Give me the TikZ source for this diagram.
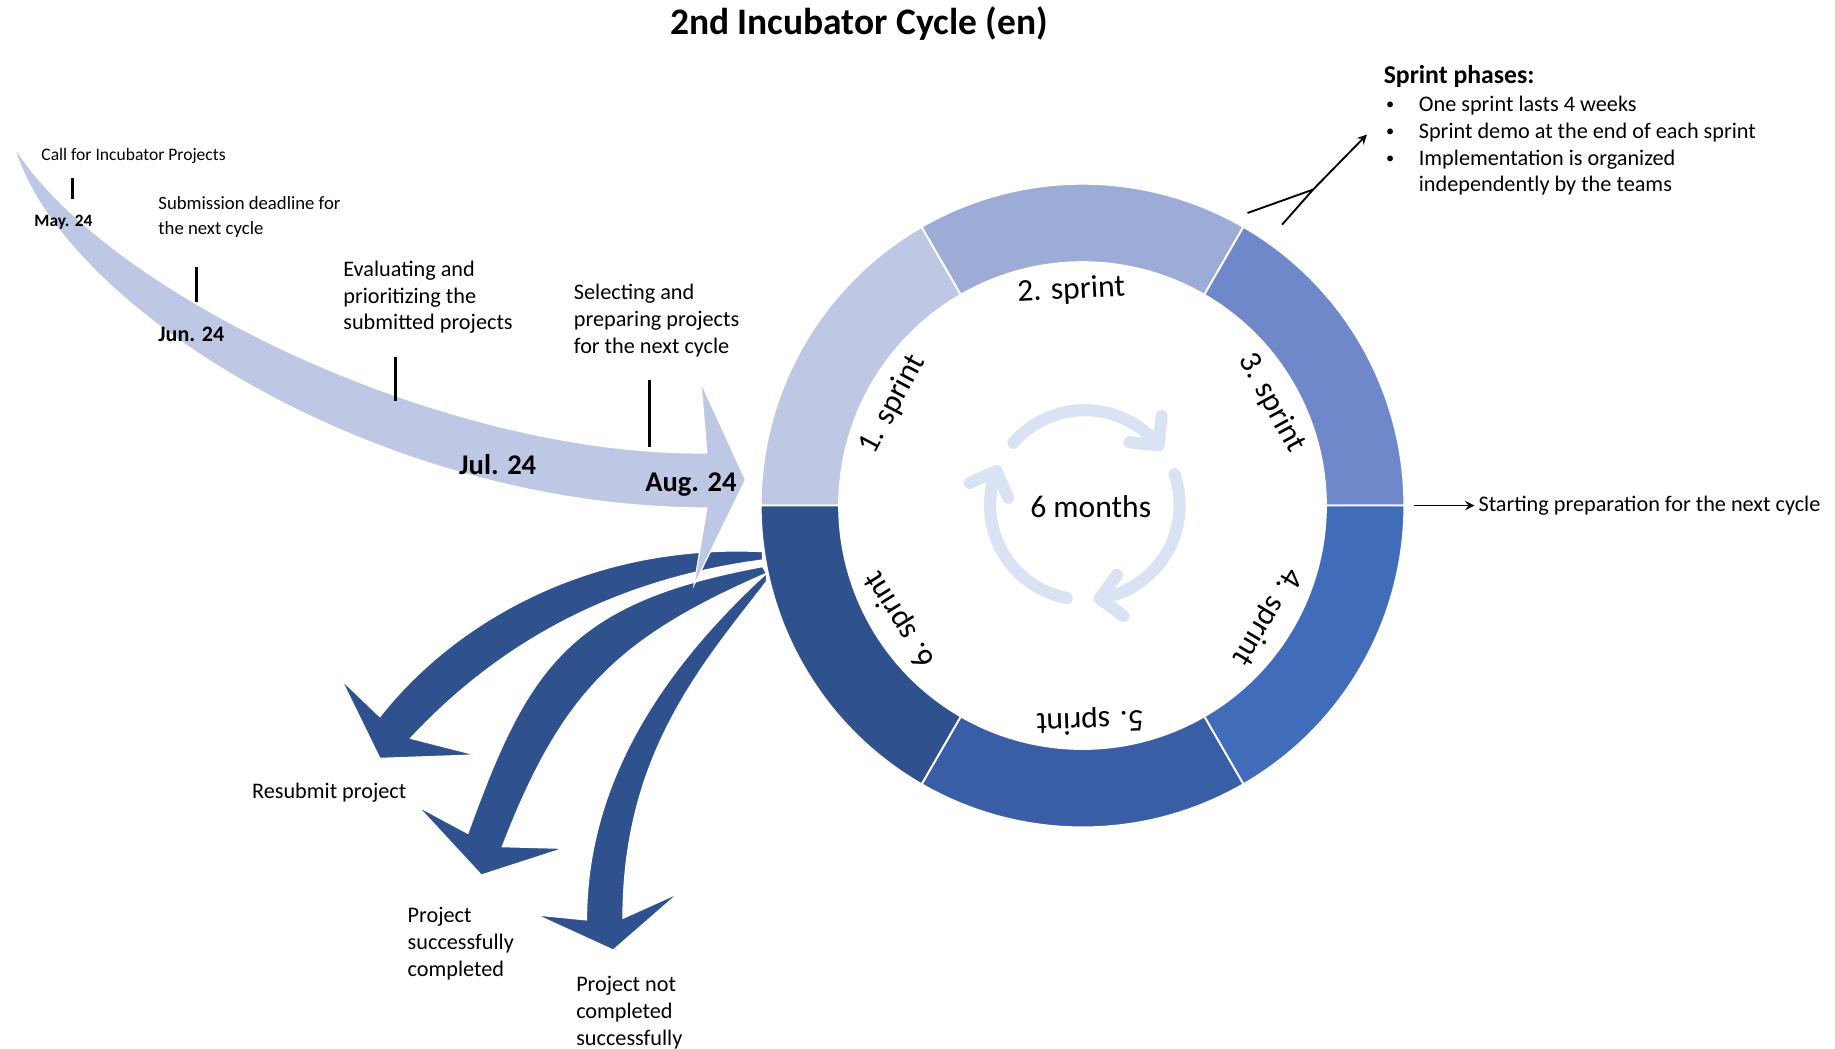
\documentclass[tikz,border=0pt]{standalone}
\usepackage{fontspec}
\setmainfont{Carlito}
\usepackage{xcolor}
\usepackage{tikz}
\usetikzlibrary{arrows}

\definecolor{sprintA}{RGB}{190,200,228}
\definecolor{sprintB}{RGB}{157,172,214}
\definecolor{sprintC}{RGB}{111,136,201}
\definecolor{sprintD}{RGB}{64,108,186}
\definecolor{sprintE}{RGB}{58,94,165}
\definecolor{sprintF}{RGB}{47,82,143}
\definecolor{cyclelight}{RGB}{218,227,243}

\newcommand{\sprintbullet}{\makebox[14pt][l]{\raisebox{0.7pt}{\fontsize{7}{7}\selectfont\textbullet}}}

\tikzstyle{txt} = [inner sep=0pt, anchor=west, align=left, yshift=-1pt, font=\fontsize{9.5}{11.5}\selectfont]
\tikzstyle{smalltxt} = [txt, font=\fontsize{8}{10.5}\selectfont]
\tikzstyle{monthlbl} = [inner sep=0pt, anchor=west, font=\bfseries\fontsize{12.2}{14}\selectfont]
\tikzstyle{slabel} = [inner sep=0pt, font=\fontsize{13.5}{16}\selectfont]
\tikzstyle{seg} = [draw=white, line width=0.8pt]
\tikzstyle{monthtick} = [line width=1pt]
\tikzstyle{fatarrow} = [fill=sprintF, draw=white, line width=0.5pt]
\tikzstyle{cyclearc} = [cyclelight, line width=5.2pt, line cap=round, line join=round]
\tikzstyle{arrow} = [thick,->,>=stealth]

\begin{document}
\begin{tikzpicture}[x=0.5pt, y=0.5pt]
\useasboundingbox (0,0) rectangle (1568,896);

\node (title) [font=\bfseries\fontsize{16}{19}\selectfont] at (734,876) {2nd Incubator Cycle (en)};

% sprint ring
\coordinate (ring) at (925,464);
\foreach \a/\c in {120/sprintA, 60/sprintB, 0/sprintC, -60/sprintD, -120/sprintE, -180/sprintF}
  \filldraw [seg, fill=\c] (ring) ++(\a:275) arc[start angle=\a, delta angle=60, radius=275]
    -- ++({\a+240}:67) arc[start angle={\a+60}, delta angle=-60, radius=208] -- cycle;
\foreach \n/\a in {1/152, 2/93, 3/28.5, 4/-31, 5/-88, 6/-148}
  \path (ring) ++(\a:184) node (s\n) [slabel, rotate={\a-90}] {\n. sprint};

% cycle in the middle
\coordinate (cyc) at (927,464.5);
\foreach \a in {139, 19, -101}
  \draw [cyclearc] (cyc) ++(\a:81) arc[start angle=\a, delta angle=-100, radius=81]
    ++({\a-55}:25) -- ++({\a+125}:25) -- ++({\a+35}:25);
\node (months) [slabel] at (932,463) {6 months};

% outcome arrows
\filldraw [fatarrow] (651.6,424.6) .. controls (501.6,432) and (386.6,362.6) .. (324.6,283.6)
  -- (291.9,314.9) -- (324.6,248) -- (406.3,250.9) -- (350.8,265.1)
  .. controls (425.6,345.4) and (522.9,400.6) .. (651.6,417.5) -- cycle;
\filldraw [fatarrow] (651.6,411.8) .. controls (485,381.2) and (450.8,324.9) .. (399.8,183.9)
  -- (357.3,206.7) -- (411.3,148.3) -- (481.6,171.1) -- (429.2,172.5)
  .. controls (479.6,302.7) and (526.1,350.1) .. (654.9,406.1) -- cycle;
\filldraw [fatarrow] (654.9,406.1) .. controls (580.9,338.1) and (501.2,239.9) .. (501.2,109.9)
  -- (458.7,114.1) -- (524,84.2) -- (579.7,132.7) -- (532.3,111.3)
  .. controls (532.3,251.3) and (600,327.9) .. (654.9,399) -- cycle;

% timeline arrow
\filldraw [fill=sprintA, draw=white, line width=0.5pt] (12,771) .. controls (90,646) and (380,506) .. (604,509)
  -- (599,569) -- (637,486) -- (593,396) -- (604,462) .. controls (320,462) and (50,636) .. (12,771) -- cycle;

\node (call) [txt, font=\fontsize{7.5}{9}\selectfont] at (35,765) {Call for Incubator Projects};
\node (may) [monthlbl, yshift=-1pt, font=\bfseries\fontsize{7.4}{9}\selectfont] at (29,708) {May. 24};
\node (subm) [smalltxt] at (135,712.5) {Submission deadline for\\the next cycle};
\node (jun) [monthlbl, yshift=-0.5pt, font=\bfseries\fontsize{9.4}{11}\selectfont] at (135,611) {Jun. 24};
\node (eval) [txt] at (293,644) {Evaluating and\\prioritizing the\\submitted projects};
\node (jul) [monthlbl] at (392,499) {Jul. 24};
\node (sel) [txt] at (490,624) {Selecting and\\preparing projects\\for the next cycle};
\node (aug) [monthlbl, yshift=-1pt] at (551,484) {Aug. 24};

\draw [monthtick] (62,744) -- (62,726);
\draw [monthtick] (168,668) -- (168,638);
\draw [monthtick] (338,591) -- (338,553);
\draw [monthtick] (555,571) -- (555,514);

\node (resub) [txt] at (215,221) {Resubmit project};
\node (succ) [txt] at (348,92) {Project\\successfully\\completed};
\node (notc) [txt] at (492,33) {Project not\\completed\\successfully};

% sprint phases
\node (phases) [anchor=west, inner sep=0pt, yshift=-1pt, font=\bfseries\fontsize{11}{13}\selectfont] at (1182,833) {Sprint phases:};
\node (bul) [txt] at (1184,773.5) {\sprintbullet One sprint lasts 4 weeks\\
  \sprintbullet Sprint demo at the end of each sprint\\
  \sprintbullet Implementation is organized\\
  \hspace*{14pt}independently by the teams};

\coordinate (ya) at (1066,714);
\coordinate (yb) at (1095.5,704);
\coordinate (yj) at (1122,734);
\coordinate (yt) at (1168,781);
\draw [thick] (ya) -- (yj);
\draw [thick] (yb) -- (yj);
\draw [arrow] (yj) -- (yt);

\coordinate (nx) at (1208,464);
\node (start) [txt] at (1263,466) {Starting preparation for the next cycle};
\draw [arrow, shorten >=1.5pt] (nx) -- (nx -| start.west);
\end{tikzpicture}
\end{document}
